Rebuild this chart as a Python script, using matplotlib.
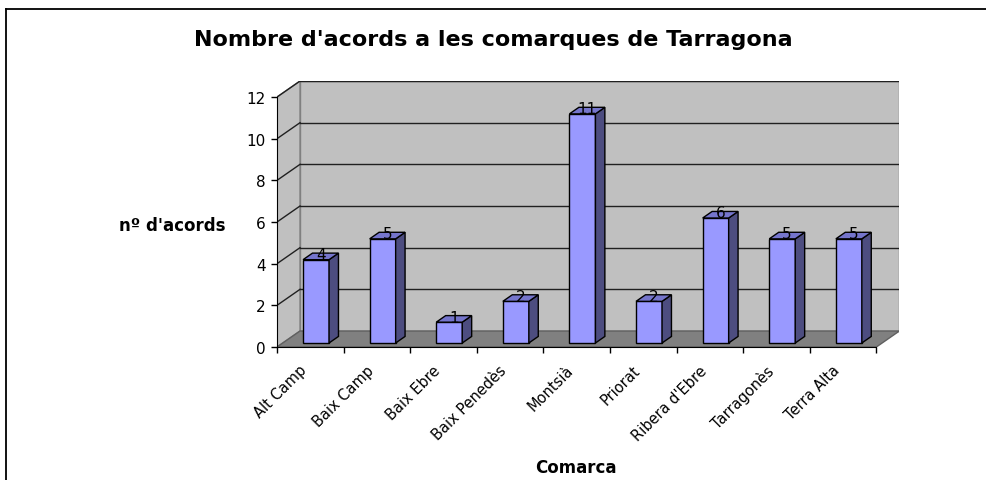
import matplotlib
matplotlib.use('Agg')
import matplotlib.pyplot as plt
import matplotlib.transforms as mtransforms
from matplotlib.patches import Polygon
from matplotlib.lines import Line2D

# data
comarques = ['Alt Camp', 'Baix Camp', 'Baix Ebre', 'Baix Penedès', 'Montsià',
             'Priorat', "Ribera d'Ebre", 'Tarragonès', 'Terra Alta']
acords = [4, 5, 1, 2, 11, 2, 6, 5, 5]
yticks = [0, 2, 4, 6, 8, 10, 12]

plt.rcParams['font.family'] = ['DejaVu Sans']

W, H = 986, 481
fig = plt.figure(figsize=(W / 100, H / 100), dpi=100)

# pixel geometry of the 3d box
ux = 66.6          # px per category
uy = 20.83         # px per unit
ddx = 23 / ux      # depth offset in data units
ddy = 16 / uy
ncat = len(comarques)
ymax = 12

x_left, y_front0 = 277, 348
ax = fig.add_axes([x_left / W, (H - y_front0) / H,
                   (ncat * ux + 23) / W, (ymax * uy + 16) / H])
ax.set_xlim(0, ncat + ddx)
ax.set_ylim(0, ymax + ddy)
ax.patch.set_visible(False)

wall = '#C0C0C0'
edge = '#808080'
# back wall, left wall, floor
ax.add_patch(Polygon([(ddx, ddy), (ncat + ddx, ddy), (ncat + ddx, ymax + ddy), (ddx, ymax + ddy)],
                     closed=True, fc=wall, ec=edge, lw=1, zorder=1))
ax.add_patch(Polygon([(0, 0), (ddx, ddy), (ddx, ymax + ddy), (0, ymax)],
                     closed=True, fc=wall, ec=edge, lw=1, zorder=1))
ax.add_patch(Polygon([(0, 0), (ncat, 0), (ncat + ddx, ddy), (ddx, ddy)],
                     closed=True, fc='#808080', ec='#606060', lw=1, zorder=1))

# gridlines on back and left wall
for v in yticks[1:]:
    ax.plot([ddx, ncat + ddx], [v + ddy, v + ddy], color='#202020', lw=1, zorder=2)
    ax.plot([0, ddx], [v, v + ddy], color='#202020', lw=1, zorder=2)

# bars
w = 0.39
f0, f1 = 0.25, 0.66
front = '#9999FF'
top = '#7575CC'
side = '#4D4D80'
for i, v in enumerate(acords):
    x0 = i + (1 - w) / 2 + f0 * ddx
    yb = f0 * ddy
    dx = (f1 - f0) * ddx
    dy = (f1 - f0) * ddy
    ax.add_patch(Polygon([(x0, yb), (x0 + w, yb), (x0 + w, yb + v), (x0, yb + v)],
                         closed=True, fc=front, ec='black', lw=1, zorder=3))
    ax.add_patch(Polygon([(x0 + w, yb), (x0 + w + dx, yb + dy), (x0 + w + dx, yb + v + dy), (x0 + w, yb + v)],
                         closed=True, fc=side, ec='black', lw=1, zorder=3))
    ax.add_patch(Polygon([(x0, yb + v), (x0 + w, yb + v), (x0 + w + dx, yb + v + dy), (x0 + dx, yb + v + dy)],
                         closed=True, fc=top, ec='black', lw=1, zorder=3))
    ax.text(x0 + w / 2 + dx / 2, yb + v + 0.03, str(v), ha='center', va='baseline',
            fontsize=11, color='black', zorder=4)

# axes
for s in ['top', 'right']:
    ax.spines[s].set_visible(False)
ax.spines['left'].set_bounds(0, ymax)
ax.spines['bottom'].set_bounds(0, ncat)
ax.spines['left'].set_zorder(5)
ax.spines['bottom'].set_zorder(5)
ax.set_yticks(yticks)
ax.tick_params(axis='y', length=4, width=1, pad=4, labelsize=11)
ax.set_xticks(range(ncat + 1))
ax.set_xticklabels([])
ax.set_xticks([i + 0.5 for i in range(ncat)], minor=True)
ax.set_xticklabels(comarques, minor=True, rotation=45, ha='right',
                   rotation_mode='anchor', fontsize=10.5)
ax.tick_params(axis='x', which='major', length=4, width=1)
ax.tick_params(axis='x', which='minor', length=0, pad=11)
shift = mtransforms.ScaledTranslation(-0.11, 0, fig.dpi_scale_trans)
for lab in ax.get_xticklabels(minor=True):
    lab.set_transform(lab.get_transform() + shift)

fig.text(W / 2 / W, 1 - 46 / H, "Nombre d'acords a les comarques de Tarragona",
         ha='center', va='baseline', fontsize=16, fontweight='bold')
fig.text(172 / W, 1 - 231 / H, "nº d'acords", ha='center', va='baseline',
         fontsize=12, fontweight='bold')
fig.text(576 / W, 1 - 473 / H, 'Comarca', ha='center', va='baseline',
         fontsize=12, fontweight='bold')

# chart frame (only top and left visible in crop)
fig.add_artist(Line2D([5.5 / W, 1], [1 - 9.5 / H, 1 - 9.5 / H], color='black', lw=1.3,
                      transform=fig.transFigure))
fig.add_artist(Line2D([5.5 / W, 5.5 / W], [0, 1 - 9.5 / H], color='black', lw=1.3,
                      transform=fig.transFigure))

fig.savefig('out.png', dpi=100, facecolor='white')
